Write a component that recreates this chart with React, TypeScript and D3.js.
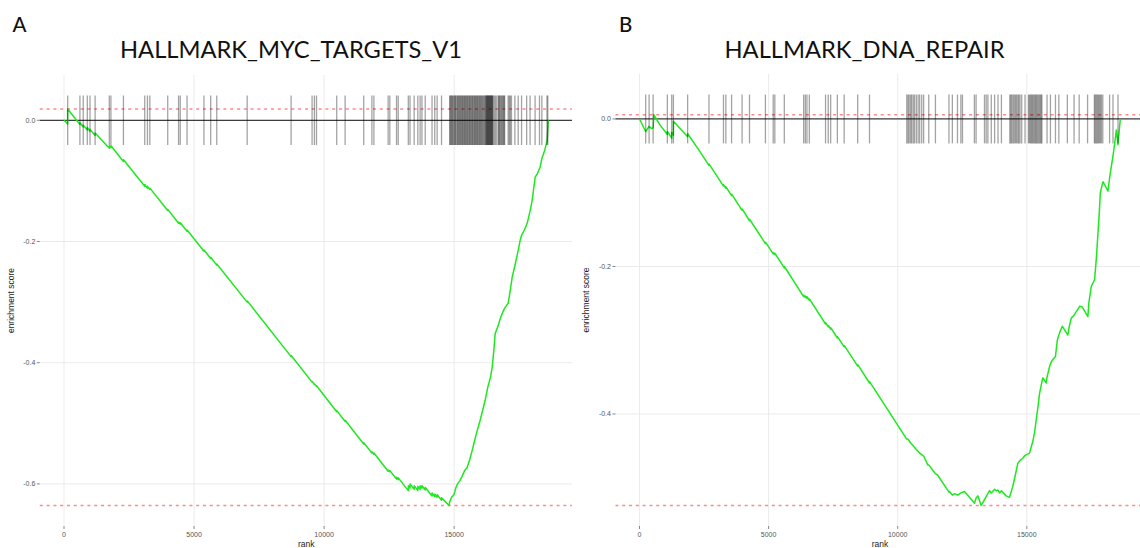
import React from "react";
import * as d3 from "d3";

// Ranked list length shared by both gene sets
const N_GENES = 18620;

const xBreaks = [0, 5000, 10000, 15000];
const mycYBreaks = [0, -0.2, -0.4, -0.6];
const dnaYBreaks = [0, -0.2, -0.4];

// Positions of the gene-set members in the ranked list
const mycHits = [
  142, 612, 739, 896, 1000, 1196, 1742, 1804, 2285, 3104, 3208, 3300, 3988, 4404, 4469, 4731,
  5381, 5640, 5873, 7042, 8731, 9538, 9627, 9708, 10485, 10808, 11523, 11838, 11915, 12462,
  12527, 12785, 12850, 13238, 13304, 13462, 13604, 13692, 13762, 13888, 14150, 14254, 14346,
  14515, 14827, 14851, 14880, 14902, 14935, 14958, 14990, 15021, 15046, 15070, 15108, 15131,
  15160, 15188, 15215, 15240, 15272, 15300, 15322, 15351, 15380, 15404, 15433, 15460, 15488,
  15512, 15540, 15571, 15596, 15620, 15652, 15680, 15705, 15730, 15761, 15790, 15812, 15840,
  15868, 15895, 15920, 15951, 15978, 16005, 16031, 16060, 16088, 16120, 16150, 16178, 16205,
  16227, 16243, 16260, 16276, 16291, 16310, 16326, 16342, 16358, 16375, 16392, 16408, 16425,
  16441, 16458, 16474, 16488, 16530, 16575, 16620, 16685, 16712, 16740, 16768, 16800, 16830,
  16862, 16895, 16920, 16942, 17077, 17120, 17160, 17204, 17335, 17462, 17592, 17788, 17919,
  18112, 18281, 18373, 18569, 18600,
];

const dnaHits = [
  240, 372, 528, 1078, 1248, 1313, 1864, 2690, 3252, 3345, 3566, 3973, 4260, 4876, 5178, 5240,
  5608, 6357, 6422, 6484, 6577, 7205, 7310, 7403, 7663, 7926, 8450, 8907, 10349, 10398, 10440,
  10495, 10540, 10600, 10650, 10720, 10790, 10850, 10930, 11004, 11202, 11461, 11985, 12116,
  12314, 12446, 12508, 12969, 13035, 13360, 13426, 13492, 13624, 13752, 13884, 14016, 14341,
  14380, 14420, 14470, 14512, 14560, 14600, 14650, 14690, 14736, 14802, 14930, 15062, 15100,
  15140, 15175, 15215, 15250, 15290, 15330, 15365, 15400, 15440, 15480, 15520, 15555, 15585,
  15783, 15915, 16109, 16240, 16570, 16829, 17027, 17353, 17616, 17650, 17690, 17730, 17770,
  17810, 17850, 17890, 17942, 18205, 18337, 18531,
];

// Running enrichment score: [rank, score]
const mycRunningScore: [number, number][] = [
  [0, 0], [140, -0.006], [142, 0.0185], [612, -0.007], [614, -0.004], [739, -0.011], [741, -0.008],
  [896, -0.016], [898, -0.012], [1000, -0.018], [1002, -0.015], [1196, -0.025], [1198, -0.021],
  [1742, -0.046], [1744, -0.042], [1804, -0.045], [1806, -0.042], [2285, -0.068], [2287, -0.065],
  [3104, -0.109], [3106, -0.106], [3208, -0.112], [3210, -0.109], [3300, -0.114], [3302, -0.112],
  [3988, -0.149], [3990, -0.147], [4404, -0.17], [4406, -0.168], [4469, -0.171], [4471, -0.169],
  [4731, -0.183], [4733, -0.181], [5381, -0.216], [5383, -0.214], [5640, -0.228], [5642, -0.226],
  [5873, -0.239], [5875, -0.237], [7042, -0.3], [7044, -0.298], [8731, -0.39], [8733, -0.388],
  [9538, -0.432], [9540, -0.431], [9627, -0.436], [9629, -0.435], [9708, -0.439], [9710, -0.438],
  [10485, -0.481], [10487, -0.479], [10808, -0.497], [10810, -0.495], [11523, -0.534], [11525, -0.532],
  [11838, -0.549], [11840, -0.547], [11915, -0.551], [11917, -0.549], [12462, -0.579], [12464, -0.577],
  [12527, -0.58], [12529, -0.578], [12785, -0.592], [12787, -0.589], [12850, -0.593], [12852, -0.59],
  [13238, -0.611], [13240, -0.603], [13304, -0.607], [13306, -0.6], [13462, -0.609], [13464, -0.603],
  [13604, -0.611], [13606, -0.604], [13692, -0.609], [13694, -0.603], [13762, -0.607], [13764, -0.603],
  [13888, -0.61], [13890, -0.606], [14150, -0.62], [14152, -0.615], [14254, -0.621], [14256, -0.617],
  [14346, -0.622], [14348, -0.618], [14515, -0.627], [14517, -0.623], [14808, -0.6356],
  [14827, -0.63], [14902, -0.622], [14990, -0.618], [15070, -0.606], [15131, -0.6], [15215, -0.595],
  [15300, -0.588], [15404, -0.578], [15500, -0.573], [15596, -0.56], [15692, -0.545], [15790, -0.528],
  [15868, -0.515], [16000, -0.495], [16088, -0.48], [16192, -0.462], [16291, -0.441], [16392, -0.425],
  [16462, -0.408], [16530, -0.378], [16577, -0.352], [16685, -0.34], [16768, -0.328], [16846, -0.319],
  [16942, -0.31], [17077, -0.302], [17160, -0.28], [17231, -0.259], [17335, -0.24], [17462, -0.215],
  [17538, -0.198], [17592, -0.19], [17700, -0.181], [17808, -0.17], [17919, -0.15], [18000, -0.132],
  [18115, -0.094], [18200, -0.088], [18308, -0.077], [18373, -0.063], [18480, -0.05], [18577, -0.033],
  [18620, 0],
];

const dnaRunningScore: [number, number][] = [
  [0, 0], [240, -0.017], [372, -0.01], [461, -0.013], [528, -0.012], [554, 0.0057], [791, -0.008],
  [1078, -0.021], [1080, -0.017], [1248, -0.026], [1250, -0.018], [1313, -0.022], [1315, -0.003],
  [1864, -0.024], [1866, -0.02], [2295, -0.042], [2690, -0.063], [2692, -0.061], [3252, -0.091],
  [3254, -0.089], [3345, -0.094], [3347, -0.092], [3566, -0.104], [3568, -0.102], [3973, -0.124],
  [3975, -0.122], [4260, -0.138], [4262, -0.136], [4876, -0.169], [4878, -0.167], [5178, -0.183],
  [5180, -0.181], [5240, -0.184], [5242, -0.182], [5608, -0.202], [5610, -0.2], [6357, -0.241],
  [6359, -0.239], [6422, -0.242], [6424, -0.24], [6484, -0.243], [6486, -0.241], [6577, -0.246],
  [6579, -0.244], [7205, -0.278], [7207, -0.276], [7310, -0.282], [7312, -0.28], [7403, -0.285],
  [7405, -0.283], [7663, -0.297], [7665, -0.295], [7926, -0.309], [7928, -0.307], [8450, -0.335],
  [8452, -0.333], [8907, -0.358], [8909, -0.356], [10349, -0.434], [10398, -0.434], [10495, -0.439],
  [10600, -0.443], [10720, -0.448], [10850, -0.453], [10930, -0.455], [11004, -0.457], [11163, -0.469],
  [11202, -0.469], [11461, -0.481], [11550, -0.483], [11985, -0.506], [12004, -0.505], [12116, -0.51],
  [12200, -0.508], [12326, -0.51], [12446, -0.507], [12585, -0.505], [12779, -0.513], [12973, -0.521],
  [13035, -0.514], [13102, -0.511], [13231, -0.524], [13360, -0.516], [13426, -0.512], [13554, -0.504],
  [13624, -0.507], [13752, -0.502], [13814, -0.504], [13884, -0.503], [13942, -0.507], [14016, -0.504],
  [14201, -0.511], [14330, -0.513], [14457, -0.498], [14560, -0.482], [14651, -0.467], [14736, -0.463],
  [14845, -0.46], [14930, -0.456], [15105, -0.453], [15233, -0.437], [15300, -0.425], [15364, -0.408],
  [15440, -0.388], [15493, -0.372], [15585, -0.356], [15622, -0.351], [15752, -0.358], [15783, -0.35],
  [15880, -0.336], [15915, -0.332], [15985, -0.327], [16109, -0.322], [16180, -0.3], [16267, -0.29],
  [16372, -0.281], [16589, -0.293], [16640, -0.282], [16721, -0.27], [16829, -0.266], [17043, -0.254],
  [17150, -0.255], [17365, -0.268], [17400, -0.25], [17496, -0.227], [17624, -0.218], [17690, -0.19],
  [17755, -0.155], [17810, -0.125], [17847, -0.1], [17950, -0.085], [18143, -0.098], [18205, -0.08],
  [18275, -0.064], [18337, -0.05], [18403, -0.033], [18467, -0.015], [18531, -0.035], [18620, 0],
];

const fmtY = d3
  .formatLocale({ decimal: ".", thousands: "", grouping: [3], currency: ["", ""], minus: "-" })
  .format(".1f");

const AXIS_FONT = "'Liberation Sans', Arial, Helvetica, sans-serif";
const TITLE_FONT = "Lato, 'Open Sans', sans-serif";

interface PanelProps {
  id: string;
  letter: string;
  letterX: number;
  title: string;
  titleX: number;
  titleLength: number;
  hits: number[];
  curve: [number, number][];
  yBreaks: number[];
  x0: number;
  x1: number;
  top: number;
  bottom: number;
  clipLeft: number;
  clipRight: number;
}

function EnrichmentPanel(p: PanelProps) {
  const x = d3.scaleLinear().domain([0, N_GENES]).range([p.x0, p.x1]);
  const esMax = d3.max(p.curve, (d) => d[1]) as number;
  const esMin = d3.min(p.curve, (d) => d[1]) as number;
  const half = (esMax - esMin) / 16; // barcode tick half-height
  const span = half - esMin;
  const y = d3
    .scaleLinear()
    .domain([esMin - span * 0.05, half + span * 0.05])
    .range([p.bottom, p.top]);
  const w = p.x1 - p.x0;
  const panelL = p.x0 - w * 0.05;
  const panelR = Math.min(p.x1 + w * 0.05, p.clipRight);
  const cx = (panelL + p.x1 + w * 0.05) / 2;
  const cy = (p.top + p.bottom) / 2;
  const line = d3
    .line<[number, number]>()
    .x((d) => x(d[0]))
    .y((d) => y(d[1]));

  return (
    <g>
      <defs>
        <clipPath id={`clip-${p.id}`}>
          <rect x={p.clipLeft} y={0} width={p.clipRight - p.clipLeft} height={548} />
        </clipPath>
      </defs>
      <g clipPath={`url(#clip-${p.id})`}>
        {/* major grid */}
        {p.yBreaks.map((b) => (
          <line key={`gy${b}`} x1={panelL} x2={panelR} y1={y(b)} y2={y(b)} stroke="#ebebeb" strokeWidth={1} />
        ))}
        {xBreaks.map((b) => (
          <line key={`gx${b}`} x1={x(b)} x2={x(b)} y1={p.top} y2={p.bottom} stroke="#ebebeb" strokeWidth={1} />
        ))}
        {/* reference lines */}
        {[esMax, esMin].map((v, i) => (
          <line
            key={`r${i}`}
            x1={panelL}
            x2={panelR}
            y1={y(v)}
            y2={y(v)}
            stroke="#ff2a2a"
            strokeOpacity={0.55}
            strokeWidth={1.6}
            strokeDasharray="3 3.8"
          />
        ))}
        <line x1={panelL} x2={panelR} y1={y(0)} y2={y(0)} stroke="#111" strokeOpacity={0.8} strokeWidth={1.2} />
        {/* running score */}
        <path d={line(p.curve) ?? ""} fill="none" stroke="#1ee81e" strokeWidth={1.5} strokeLinejoin="round" />
        {/* barcode */}
        {p.hits.map((h, i) => (
          <line
            key={`h${i}`}
            x1={x(h)}
            x2={x(h)}
            y1={y(half)}
            y2={y(-half)}
            stroke="#000"
            strokeOpacity={0.36}
            strokeWidth={1.3}
          />
        ))}
      </g>
      {/* y axis */}
      {p.yBreaks.map((b) => (
        <g key={`ty${b}`}>
          <line x1={panelL - 3} x2={panelL} y1={y(b)} y2={y(b)} stroke="#555" strokeWidth={0.7} />
          <text
            x={panelL - 4.5}
            y={y(b)}
            dy="0.35em"
            textAnchor="end"
            fontFamily={AXIS_FONT}
            fontSize={7}
            fill="#555"
          >
            {fmtY(b)}
          </text>
        </g>
      ))}
      <text
        transform={`translate(${panelL - 26},${cy}) rotate(-90)`}
        textAnchor="middle"
        fontFamily={AXIS_FONT}
        fontSize={8.5}
        fill="#222"
      >
        enrichment score
      </text>
      {/* x axis */}
      {xBreaks.map((b) => (
        <g key={`tx${b}`}>
          <line x1={x(b)} x2={x(b)} y1={p.bottom} y2={p.bottom + 3} stroke="#555" strokeWidth={0.7} />
          <text x={x(b)} y={536.5} textAnchor="middle" fontFamily={AXIS_FONT} fontSize={7} fill="#555">
            {b}
          </text>
        </g>
      ))}
      <text x={cx} y={546.5} textAnchor="middle" fontFamily={AXIS_FONT} fontSize={8.5} fill="#222">
        rank
      </text>
      {/* headings */}
      <text x={p.letterX} y={32} fontFamily={TITLE_FONT} fontSize={20.5} fontWeight={500} fill="#111">
        {p.letter}
      </text>
      <text
        x={p.titleX}
        y={58.3}
        textAnchor="middle"
        fontFamily={TITLE_FONT}
        fontSize={23}
        fill="#111"
        textLength={p.titleLength}
        lengthAdjust="spacingAndGlyphs"
      >
        {p.title}
      </text>
    </g>
  );
}

export default function App() {
  return (
    <div style={{ position: "absolute", left: 0, top: 0 }}>
      <svg width={1140} height={548} viewBox="0 0 1140 548" style={{ display: "block", background: "#fff" }}>
        <rect width={1140} height={548} fill="#fff" />
        <EnrichmentPanel
          id="myc"
          letter="A"
          letterX={12.5}
          title="HALLMARK_MYC_TARGETS_V1"
          titleX={291}
          titleLength={342}
          hits={mycHits}
          curve={mycRunningScore}
          yBreaks={mycYBreaks}
          x0={64}
          x1={548.3}
          top={75}
          bottom={526}
          clipLeft={0}
          clipRight={572}
        />
        <EnrichmentPanel
          id="dna"
          letter="B"
          letterX={619}
          title="HALLMARK_DNA_REPAIR"
          titleX={864.5}
          titleLength={280}
          hits={dnaHits}
          curve={dnaRunningScore}
          yBreaks={dnaYBreaks}
          x0={639.5}
          x1={1120.3}
          top={74}
          bottom={526}
          clipLeft={572}
          clipRight={1140}
        />
      </svg>
    </div>
  );
}
